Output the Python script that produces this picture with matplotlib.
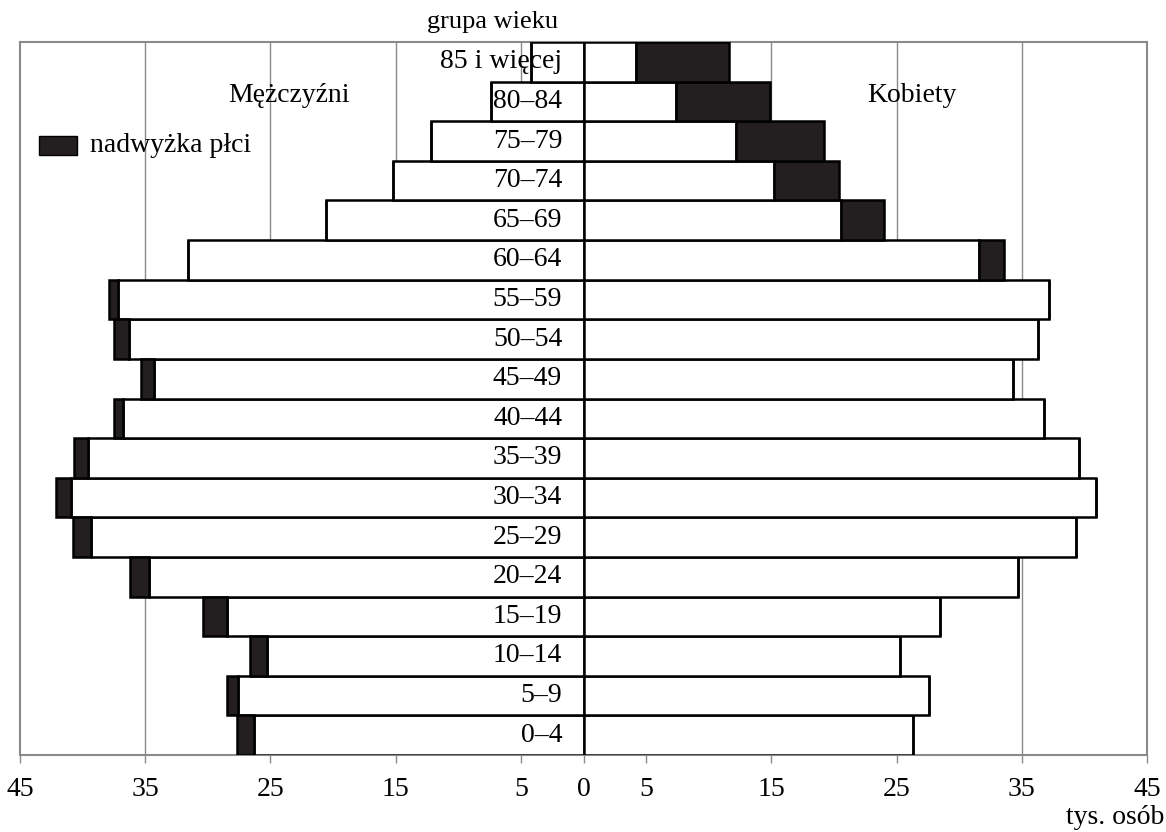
import matplotlib
matplotlib.use("Agg")
import matplotlib.pyplot as plt
import numpy as np

age_groups = ['0–4', '5–9', '10–14', '15–19', '20–24', '25–29', '30–34', '35–39',
              '40–44', '45–49', '50–54', '55–59', '60–64', '65–69', '70–74',
              '75–79', '80–84', '85 i więcej']
men = [27.7, 28.5, 26.6, 30.4, 36.2, 40.8, 42.1, 40.7, 37.5, 35.3, 37.5, 37.9,
       31.6, 20.6, 15.2, 12.2, 7.4, 4.2]
women = [26.3, 27.6, 25.3, 28.5, 34.7, 39.3, 40.9, 39.6, 36.8, 34.3, 36.3, 37.2,
         33.6, 24.0, 20.4, 19.2, 14.9, 11.6]
tick_vals = [-45, -35, -25, -15, -5, 0, 5, 15, 25, 35, 45]
tick_labels = ['45', '35', '25', '15', '5', '0', '5', '15', '25', '35', '45']

plt.rcParams['font.family'] = ['Liberation Serif', 'DejaVu Serif']
FS = 20
dark = '#231f20'
grey = '#8a8a8a'

fig = plt.figure(figsize=(11.66, 8.32), dpi=100)
ax = fig.add_axes([20/1166, 1-755/832, 1127/1166, 713/832])

y = np.arange(len(age_groups))
men = np.array(men)
women = np.array(women)
common = np.minimum(men, women)
men_excess = np.clip(men - women, 0, None)
women_excess = np.clip(women - men, 0, None)

kw = dict(height=1.0, edgecolor='black', linewidth=1.8, zorder=3)
ax.barh(y, -common, left=0, color='white', **kw)
ax.barh(y, -men_excess, left=-common, color=dark, **kw)
ax.barh(y, common, left=0, color='white', **kw)
ax.barh(y, women_excess, left=common, color=dark, **kw)

ax.set_xlim(-45, 45)
ax.set_ylim(-0.5, len(age_groups) - 0.5)
for v in tick_vals:
    if v not in (0, -45, 45):
        ax.axvline(v, color=grey, linewidth=1.0, zorder=1)
ax.set_xticks(tick_vals)
ax.set_xticklabels(tick_labels, fontsize=FS)
ax.tick_params(axis='x', length=6, width=1, color=grey, pad=10)
ax.set_yticks([])
for s in ax.spines.values():
    s.set_color(grey)
    s.set_linewidth(1.5)

for yi, lab in zip(y, age_groups):
    ax.text(-1.7, yi, lab, ha='right', va='center', fontsize=FS, zorder=5)

fig.text(493/1166, 1-22/832, 'grupa wieku', ha='center', va='center', fontsize=19)
fig.text(289/1166, 1-95/832, 'Mężczyźni', ha='center', va='center', fontsize=FS)
fig.text(912/1166, 1-95/832, 'Kobiety', ha='center', va='center', fontsize=FS)
fig.text(1164/1166, 1-818/832, 'tys. osób', ha='right', va='center', fontsize=FS)

# legend
leg_rect = plt.Rectangle((39/1166, 1-155/832), 38/1166, 19/832,
                         transform=fig.transFigure, facecolor=dark,
                         edgecolor='black', linewidth=1, zorder=10)
fig.patches.append(leg_rect)
fig.text(90/1166, 1-145/832, 'nadwyżka płci', ha='left', va='center', fontsize=FS)

fig.savefig('out.png', dpi=100)
